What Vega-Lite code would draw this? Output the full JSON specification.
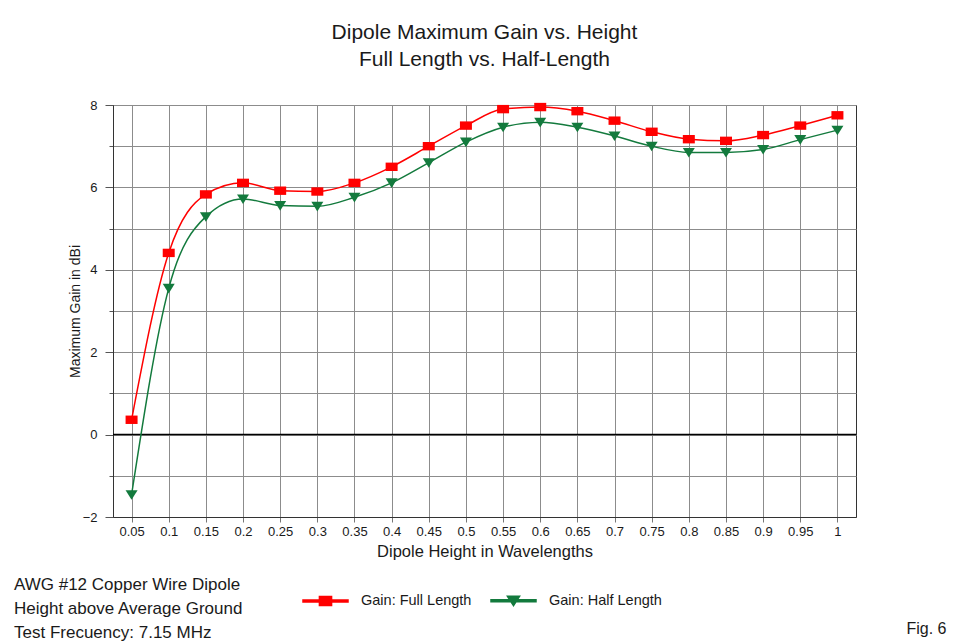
{
  "$schema": "https://vega.github.io/schema/vega-lite/v6.json",
  "width": 743,
  "height": 412,
  "padding": {"top": 22, "left": 14, "right": 0, "bottom": 0},
  "background": "white",
  "config": {
    "font": "Liberation Sans",
    "view": {"stroke": "#333333", "strokeWidth": 1}
  },
  "title": {
    "text": ["Dipole Maximum Gain vs. Height", "Full Length vs. Half-Length"],
    "font": "Liberation Sans",
    "fontSize": 21,
    "fontWeight": "normal",
    "color": "#1a1a1a",
    "lineHeight": 27,
    "offset": 29,
    "anchor": "middle"
  },
  "resolve": {"axis": {"y": "independent"}},
  "layer": [
    {
      "data": {"values": [{"z": 0}]},
      "mark": {"type": "rule", "color": "#000000", "strokeWidth": 1.5},
      "encoding": {
        "y": {
          "field": "z",
          "type": "quantitative",
          "scale": {"domain": [-2, 8], "nice": false, "zero": false},
          "axis": {
            "orient": "right",
            "title": "Fig. 6",
            "labels": false,
            "ticks": false,
            "domain": false,
            "grid": false,
            "titleAngle": 0,
            "titleX": 50,
            "titleY": 523,
            "titleAlign": "left",
            "titleBaseline": "middle",
            "titleFontSize": 16,
            "titleFontWeight": "normal",
            "titleColor": "#1a1a1a"
          }
        }
      }
    },
    {
      "data": {
        "values": [
          {"h": 0.05, "Gain: Full Length": 0.36, "Gain: Half Length": -1.46},
          {"h": 0.1, "Gain: Full Length": 4.41, "Gain: Half Length": 3.55},
          {"h": 0.15, "Gain: Full Length": 5.83, "Gain: Half Length": 5.29},
          {"h": 0.2, "Gain: Full Length": 6.11, "Gain: Half Length": 5.72},
          {"h": 0.25, "Gain: Full Length": 5.92, "Gain: Half Length": 5.56},
          {"h": 0.3, "Gain: Full Length": 5.9, "Gain: Half Length": 5.54},
          {"h": 0.35, "Gain: Full Length": 6.11, "Gain: Half Length": 5.76},
          {"h": 0.4, "Gain: Full Length": 6.5, "Gain: Half Length": 6.11},
          {"h": 0.45, "Gain: Full Length": 7.0, "Gain: Half Length": 6.6},
          {"h": 0.5, "Gain: Full Length": 7.5, "Gain: Half Length": 7.1},
          {"h": 0.55, "Gain: Full Length": 7.9, "Gain: Half Length": 7.46},
          {"h": 0.6, "Gain: Full Length": 7.95, "Gain: Half Length": 7.58},
          {"h": 0.65, "Gain: Full Length": 7.85, "Gain: Half Length": 7.46},
          {"h": 0.7, "Gain: Full Length": 7.62, "Gain: Half Length": 7.25},
          {"h": 0.75, "Gain: Full Length": 7.35, "Gain: Half Length": 7.0},
          {"h": 0.8, "Gain: Full Length": 7.17, "Gain: Half Length": 6.85},
          {"h": 0.85, "Gain: Full Length": 7.13, "Gain: Half Length": 6.85},
          {"h": 0.9, "Gain: Full Length": 7.27, "Gain: Half Length": 6.92},
          {"h": 0.95, "Gain: Full Length": 7.5, "Gain: Half Length": 7.16},
          {"h": 1, "Gain: Full Length": 7.75, "Gain: Half Length": 7.39}
        ]
      },
      "transform": [
        {"fold": ["Gain: Full Length", "Gain: Half Length"], "as": ["series", "gain"]}
      ],
      "encoding": {
        "x": {
          "field": "h",
          "type": "ordinal",
          "scale": {"type": "point", "padding": 0.5},
          "axis": {
            "title": "Dipole Height in Wavelengths",
            "labelAngle": 0,
            "grid": true,
            "gridColor": "#8c8c8c",
            "gridWidth": 1,
            "ticks": true,
            "tickSize": 5,
            "tickColor": "#777777",
            "domainColor": "#333333",
            "labelFontSize": 13,
            "labelColor": "#1a1a1a",
            "labelPadding": 3,
            "titleFontSize": 16.5,
            "titleFontWeight": "normal",
            "titleColor": "#1a1a1a",
            "titlePadding": 5
          }
        },
        "y": {
          "field": "gain",
          "type": "quantitative",
          "scale": {"domain": [-2, 8], "nice": false, "zero": false},
          "axis": {
            "title": "Maximum Gain in dBi",
            "values": [-2, -1, 0, 1, 2, 3, 4, 5, 6, 7, 8],
            "labelExpr": "datum.value % 2 === 0 ? datum.label : ''",
            "tickSize": {"condition": {"test": "datum.value % 2 === 0", "value": 8}, "value": 4},
            "tickColor": "#555555",
            "grid": true,
            "gridColor": "#8c8c8c",
            "gridWidth": 1,
            "domainColor": "#333333",
            "labelFontSize": 13,
            "labelColor": "#1a1a1a",
            "labelPadding": 8,
            "titleFontSize": 14,
            "titleFontWeight": "normal",
            "titleColor": "#1a1a1a",
            "titlePadding": 0
          }
        },
        "color": {
          "field": "series",
          "type": "nominal",
          "scale": {
            "domain": ["Gain: Full Length", "Gain: Half Length"],
            "range": ["#ff0000", "#137a3d"]
          },
          "legend": {
            "orient": "none",
            "legendX": -99,
            "legendY": 472,
            "direction": "horizontal",
            "columns": 2,
            "title": ["AWG #12 Copper Wire Dipole", "Height above Average Ground", "Test Frecuency: 7.15 MHz"],
            "titleOrient": "left",
            "titleAnchor": "start",
            "titleFontSize": 17,
            "titleFontWeight": "normal",
            "titleLineHeight": 24,
            "titleColor": "#1a1a1a",
            "titlePadding": 58,
            "titleLimit": 400,
            "labelFontSize": 14.5,
            "labelColor": "#1a1a1a",
            "labelOffset": 12,
            "labelLimit": 300,
            "columnPadding": 16,
            "symbolSize": 2025,
            "encode": {
              "symbols": {
                "update": {
                  "shape": {"signal": "datum.value === 'Gain: Full Length' ? 'M-1,-0.045H1V0.045H-1Z M-0.27,-0.2H0.27V0.2H-0.27Z' : 'M-1,-0.045H1V0.045H-1Z M-0.27,-0.2H0.27L0,0.22Z'"},
                  "fill": {"signal": "datum.value === 'Gain: Full Length' ? '#ff0000' : '#137a3d'"},
                  "stroke": {"value": "transparent"},
                  "opacity": {"value": 1}
                }
              }
            }
          }
        }
      },
      "layer": [
        {
          "mark": {"type": "line", "interpolate": "monotone", "strokeWidth": 1.5}
        },
        {
          "transform": [{"filter": "datum.series === 'Gain: Full Length'"}],
          "mark": {"type": "point", "filled": true, "opacity": 1, "size": 144, "shape": "M-1,-0.7H1V0.7H-1Z"}
        },
        {
          "transform": [{"filter": "datum.series === 'Gain: Half Length'"}],
          "mark": {"type": "point", "filled": true, "opacity": 1, "size": 144, "shape": "M-1,-0.75H1L0,0.85Z"}
        }
      ]
    }
  ]
}
